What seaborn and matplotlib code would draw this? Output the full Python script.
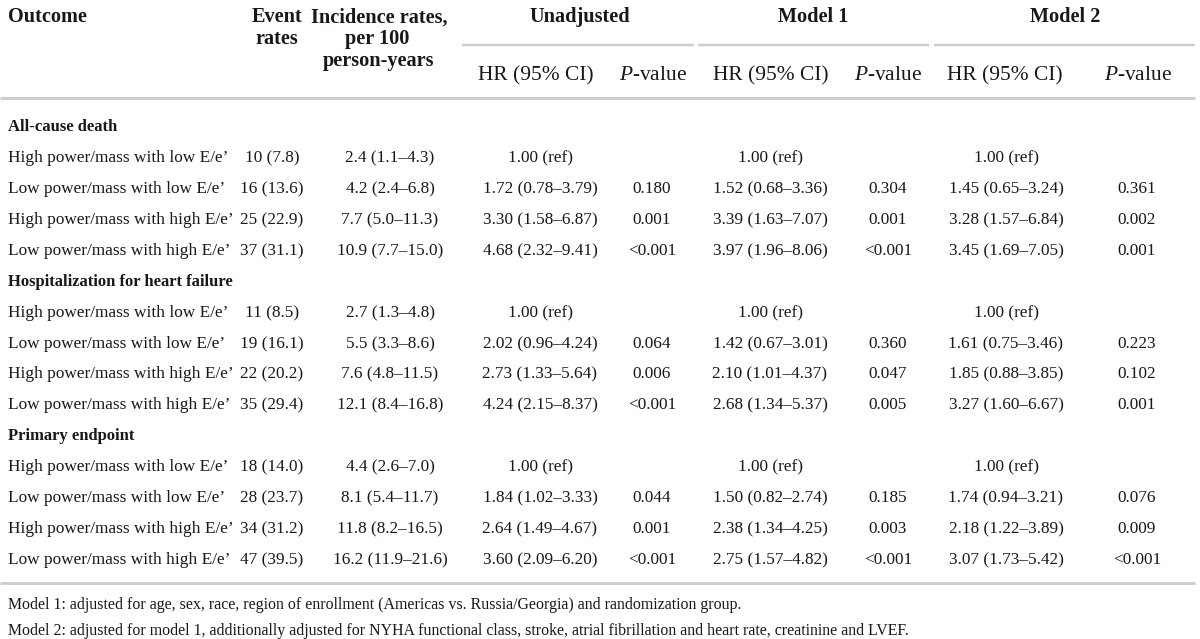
import numpy as np
import pandas as pd
import matplotlib
matplotlib.use("Agg")
import matplotlib.pyplot as plt
import seaborn as sns

# ---- table values ----
outcomes = ["All-cause death", "Hospitalization for heart failure", "Primary endpoint"]
strata = ["High power/mass with low E/e\u2019",
          "Low power/mass with low E/e\u2019",
          "High power/mass with high E/e\u2019",
          "Low power/mass with high E/e\u2019"]

event_rates = ["10 (7.8)", "16 (13.6)", "25 (22.9)", "37 (31.1)",
               "11 (8.5)", "19 (16.1)", "22 (20.2)", "35 (29.4)",
               "18 (14.0)", "28 (23.7)", "34 (31.2)", "47 (39.5)"]
incidence = ["2.4 (1.1\u20134.3)", "4.2 (2.4\u20136.8)", "7.7 (5.0\u201311.3)", "10.9 (7.7\u201315.0)",
             "2.7 (1.3\u20134.8)", "5.5 (3.3\u20138.6)", "7.6 (4.8\u201311.5)", "12.1 (8.4\u201316.8)",
             "4.4 (2.6\u20137.0)", "8.1 (5.4\u201311.7)", "11.8 (8.2\u201316.5)", "16.2 (11.9\u201321.6)"]
unadj_hr = ["1.00 (ref)", "1.72 (0.78\u20133.79)", "3.30 (1.58\u20136.87)", "4.68 (2.32\u20139.41)",
            "1.00 (ref)", "2.02 (0.96\u20134.24)", "2.73 (1.33\u20135.64)", "4.24 (2.15\u20138.37)",
            "1.00 (ref)", "1.84 (1.02\u20133.33)", "2.64 (1.49\u20134.67)", "3.60 (2.09\u20136.20)"]
unadj_p = ["", "0.180", "0.001", "<0.001",
           "", "0.064", "0.006", "<0.001",
           "", "0.044", "0.001", "<0.001"]
m1_hr = ["1.00 (ref)", "1.52 (0.68\u20133.36)", "3.39 (1.63\u20137.07)", "3.97 (1.96\u20138.06)",
         "1.00 (ref)", "1.42 (0.67\u20133.01)", "2.10 (1.01\u20134.37)", "2.68 (1.34\u20135.37)",
         "1.00 (ref)", "1.50 (0.82\u20132.74)", "2.38 (1.34\u20134.25)", "2.75 (1.57\u20134.82)"]
m1_p = ["", "0.304", "0.001", "<0.001",
        "", "0.360", "0.047", "0.005",
        "", "0.185", "0.003", "<0.001"]
m2_hr = ["1.00 (ref)", "1.45 (0.65\u20133.24)", "3.28 (1.57\u20136.84)", "3.45 (1.69\u20137.05)",
         "1.00 (ref)", "1.61 (0.75\u20133.46)", "1.85 (0.88\u20133.85)", "3.27 (1.60\u20136.67)",
         "1.00 (ref)", "1.74 (0.94\u20133.21)", "2.18 (1.22\u20133.89)", "3.07 (1.73\u20135.42)"]
m2_p = ["", "0.361", "0.002", "0.001",
        "", "0.223", "0.102", "0.001",
        "", "0.076", "0.009", "<0.001"]

footnotes = ["Model 1: adjusted for age, sex, race, region of enrollment (Americas vs. Russia/Georgia) and randomization group.",
             "Model 2: adjusted for model 1, additionally adjusted for NYHA functional class, stroke, atrial fibrillation and heart rate, creatinine and LVEF."]

df = pd.DataFrame({
    "outcome": np.repeat(outcomes, len(strata)),
    "stratum": strata * len(outcomes),
    "event": event_rates, "inc": incidence,
    "u_hr": unadj_hr, "u_p": unadj_p,
    "m1_hr": m1_hr, "m1_p": m1_p,
    "m2_hr": m2_hr, "m2_p": m2_p,
})

sns.set_theme(style="white")
plt.rcParams["font.family"] = ["Liberation Serif", "DejaVu Serif"]
plt.rcParams["mathtext.fontset"] = "custom"
plt.rcParams["mathtext.it"] = "Liberation Serif:italic"
plt.rcParams["mathtext.rm"] = "Liberation Serif"

ink = "#1a1718"
rule = "#cdcdcd"
body = 12.4
head = 14.6

fig = plt.figure(figsize=(12, 6.39), dpi=100)
ax = fig.add_axes([0, 0, 1, 1])
ax.set_xlim(0, 1200)
ax.set_ylim(639, 0)
ax.axis("off")


def put(x, y, s, size, ha="center", **kw):
    # y is the visual centre of digits/capitals; text sits on a whole-pixel baseline below it
    base = np.floor(y + size * 0.46) + 0.3
    ax.text(x, base, s, ha=ha, va="baseline", fontsize=size, color=ink, **kw)


# column centres for the value columns
cols = {"event": 272, "inc": 390, "u_hr": 540, "u_p": 652,
        "m1_hr": 770, "m1_p": 888, "m2_hr": 1006, "m2_p": 1137}

# header
put(8, 16, "Outcome", head, ha="left", fontweight="bold")
put(277, 16, "Event", head, fontweight="bold")
put(277, 38, "rates", head, fontweight="bold")
put(379, 16, "Incidence rates,", head, fontweight="bold")
put(377, 38, "per 100", head, fontweight="bold")
put(379, 60, "person-years", head, fontweight="bold")
for name, xc in [("Unadjusted", 580), ("Model 1", 813), ("Model 2", 1065)]:
    put(xc, 16, name, head, fontweight="bold")
for x0, x1 in [(462, 694), (698, 929), (934, 1195)]:
    ax.hlines(45, x0, x1, color=rule, lw=1.7)
for xc, lab in [(536, "HR (95% CI)"), (653, r"$\it{P}$-value"),
                (771, "HR (95% CI)"), (888, r"$\it{P}$-value"),
                (1005, "HR (95% CI)"), (1138, r"$\it{P}$-value")]:
    put(xc, 73, lab, 15.4)
ax.hlines(98, 0, 1195, color=rule, lw=2.1)

# body rows
pitch = 30.9
y = 126
for outcome, sub in df.groupby("outcome", sort=False):
    put(8, y, outcome, 12.0, ha="left", fontweight="bold")
    y += pitch
    for _, r in sub.iterrows():
        put(8, y, r["stratum"], body, ha="left")
        for c, xc in cols.items():
            put(xc, y, r[c], body)
        y += pitch

ax.hlines(583, 0, 1195, color=rule, lw=2.1)
for i, note in enumerate(footnotes):
    put(8, 604 + 26 * i, note, 11.4, ha="left")

plt.savefig("out.png", dpi=100)
